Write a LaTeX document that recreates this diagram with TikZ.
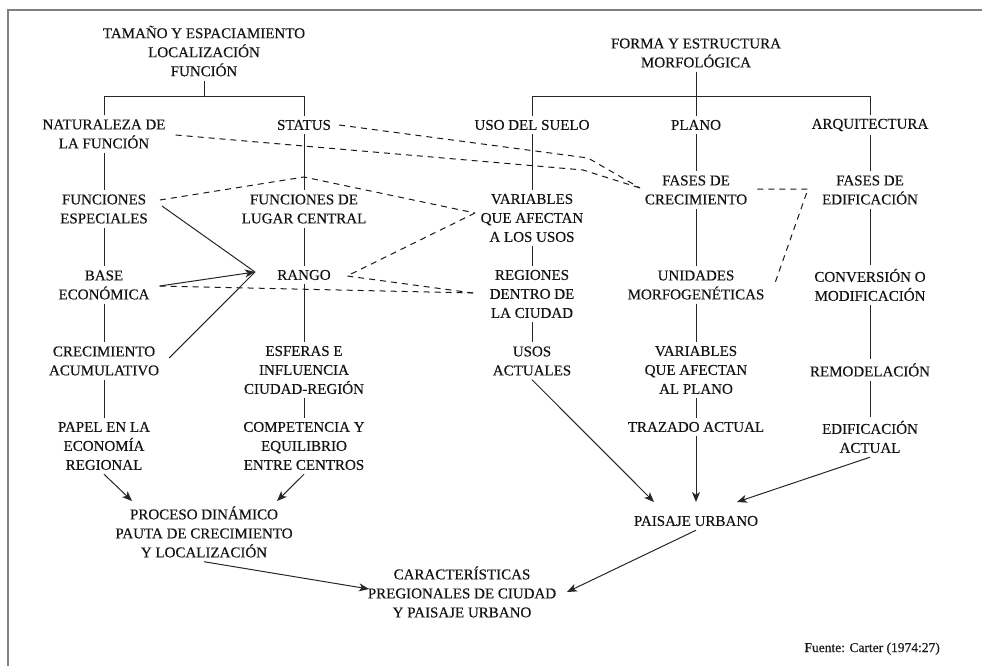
\documentclass[tikz,border=0pt]{standalone}
\usepackage{fontspec}
\setmainfont{Liberation Serif}
\newfontfamily\lblfont{Liberation Serif}[FakeBold=0.35]
\usetikzlibrary{arrows.meta,calc}
\begin{document}
\begin{tikzpicture}[x=1pt,y=-1pt,
  lbl/.style={align=center, font=\lblfont\fontsize{15}{19}\selectfont, inner xsep=8pt, inner ysep=4pt, text=black!92},
  ln/.style={draw=black!85, line width=1pt},
  dsh/.style={draw=black!90, line width=1pt, dash pattern=on 6pt off 5pt},
  arr/.style={ln, -{Stealth[length=10pt,width=8pt,inset=2.8pt]}},
  frame/.style={draw=black!50, line width=1.4pt}]
\useasboundingbox (0,0) rectangle (982,666);
\coordinate (fa) at (8,666);
\coordinate (fb) at (8,10);
\coordinate (fc) at (982,10);
\draw[frame] (fa) -- (fb) -- (fc);

% left tree
\node[lbl] (t1) at (204,51) {TAMAÑO Y ESPACIAMIENTO\\LOCALIZACIÓN\\FUNCIÓN};
\node[lbl] (nat) at (104,134) {NATURALEZA DE\\LA FUNCIÓN};
\node[lbl] (sta) at (304,125) {STATUS};
\node[lbl] (fesp) at (104,209) {FUNCIONES\\ESPECIALES};
\node[lbl] (flug) at (304,209) {FUNCIONES DE\\LUGAR CENTRAL};
\node[lbl] (base) at (104,285) {BASE\\ECONÓMICA};
\node[lbl] (rango) at (304,275) {RANGO};
\node[lbl] (crec) at (104,361) {CRECIMIENTO\\ACUMULATIVO};
\node[lbl] (esf) at (304,370) {ESFERAS E\\INFLUENCIA\\CIUDAD-REGIÓN};
\node[lbl] (papel) at (104,446) {PAPEL EN LA\\ECONOMÍA\\REGIONAL};
\node[lbl] (comp) at (304,446) {COMPETENCIA Y\\EQUILIBRIO\\ENTRE CENTROS};
\node[lbl] (proc) at (204,532) {PROCESO DINÁMICO\\PAUTA DE CRECIMIENTO\\Y LOCALIZACIÓN};
\node[lbl] (car) at (462,592) {CARACTERÍSTICAS\\PREGIONALES DE CIUDAD\\Y PAISAJE URBANO};

% right tree
\node[lbl] (forma) at (696,53) {FORMA Y ESTRUCTURA\\MORFOLÓGICA};
\node[lbl] (uso) at (532,125) {USO DEL SUELO};
\node[lbl] (plano) at (696,125) {PLANO};
\node[lbl] (arq) at (870,125) {ARQUITECTURA};
\node[lbl] (var1) at (532,218) {VARIABLES\\QUE AFECTAN\\A LOS USOS};
\node[lbl] (reg) at (532,294) {REGIONES\\DENTRO DE\\LA CIUDAD};
\node[lbl] (usos) at (532,361) {USOS\\ACTUALES};
\node[lbl] (fcrec) at (696,190) {FASES DE\\CRECIMIENTO};
\node[lbl] (unid) at (696,285) {UNIDADES\\MORFOGENÉTICAS};
\node[lbl] (var2) at (696,370) {VARIABLES\\QUE AFECTAN\\AL PLANO};
\node[lbl] (traz) at (696,427) {TRAZADO ACTUAL};
\node[lbl] (fedif) at (870,190) {FASES DE\\EDIFICACIÓN};
\node[lbl] (conv) at (870,285) {CONVERSIÓN O\\MODIFICACIÓN};
\node[lbl] (remo) at (870,370) {REMODELACIÓN};
\node[lbl] (edif) at (870,437) {EDIFICACIÓN\\ACTUAL};
\node[lbl] (pais) at (696,521) {PAISAJE URBANO};
\node[anchor=base east, inner sep=0pt, font=\lblfont\fontsize{13.5}{16}\selectfont, text=black!90] (fuente) at (940,652) {Fuente: Carter (1974:27)};

% tree branches
\coordinate (jL) at (204,97);
\coordinate (jR) at (696,97);
\draw[ln] (t1.south) -- (jL);
\draw[ln] (nat.north) -- (nat.north |- jL) -- (sta.north |- jL) -- (sta.north);
\draw[ln] (forma.south) -- (plano.north);
\draw[ln] (uso.north) -- (uso.north |- jR) -- (arq.north |- jR) -- (arq.north);

% vertical chains
\draw[ln] (nat) -- (fesp);
\draw[ln] (fesp) -- (base);
\draw[ln] (base) -- (crec);
\draw[ln] (crec) -- (papel);
\draw[ln] (sta) -- (flug);
\draw[ln] (flug) -- (rango);
\draw[ln] (rango) -- (esf);
\draw[ln] (esf) -- (comp);
\draw[ln] (uso) -- (var1);
\draw[ln] (var1) -- (reg);
\draw[ln] (reg) -- (usos);
\draw[ln] (plano) -- (fcrec);
\draw[ln] (fcrec) -- (unid);
\draw[ln] (unid) -- (var2);
\draw[ln] (var2) -- (traz);
\draw[ln] (arq) -- (fedif);
\draw[ln] (fedif) -- (conv);
\draw[ln] (conv) -- (remo);
\draw[ln] (remo) -- (edif);

% coordinates for connector ends
\coordinate (rin) at (255,272);
\coordinate (pin1) at (132,501);
\coordinate (pin2) at (277,501);
\coordinate (cin) at (369,589);
\coordinate (uin1) at (654,502);
\coordinate (uin2) at (696,502);
\coordinate (uin3) at (737,502);
\coordinate (cin2) at (567,592);
\coordinate (k1) at (588,158);
\coordinate (k2) at (583,170);
\coordinate (fin) at (640,188);
\coordinate (k3) at (304,177);
\coordinate (vin) at (475,213);
\coordinate (rout) at (347,276);
\coordinate (rin2) at (473,293);
\coordinate (k4) at (808,189);
\coordinate (uin) at (775,283);

% solid arrows
\draw[ln] ($(fesp.east)+(6,-3)$) -- (rin);
\draw[ln] ($(crec.east)+(2,-3)$) -- (rin);
\draw[arr] ($(base.east)+(2,1)$) -- (rin);
\draw[arr] (papel.south) -- (pin1);
\draw[arr] (comp.south) -- (pin2);
\draw[arr] (proc.south) -- (cin);
\draw[arr] (usos.south) -- (uin1);
\draw[arr] (traz.south) -- (uin2);
\draw[arr] (edif.south) -- (uin3);
\draw[arr] (pais.south) -- (cin2);

% dashed relations
\draw[dsh] (sta.east) -- (k1) -- (fin);
\draw[dsh] ($(nat.east)+(2,1)$) -- (k2) -- (fin);
\draw[dsh] ($(fesp.east)+(4,-9)$) -- (k3) -- (vin);
\draw[dsh] (vin) -- (rout) -- (rin2);
\draw[dsh] ($(base.east)+(2,1)$) -- (rin2);
\draw[dsh] ($(fcrec.east)+(2,-1)$) -- (k4) -- (uin);
\end{tikzpicture}
\end{document}
